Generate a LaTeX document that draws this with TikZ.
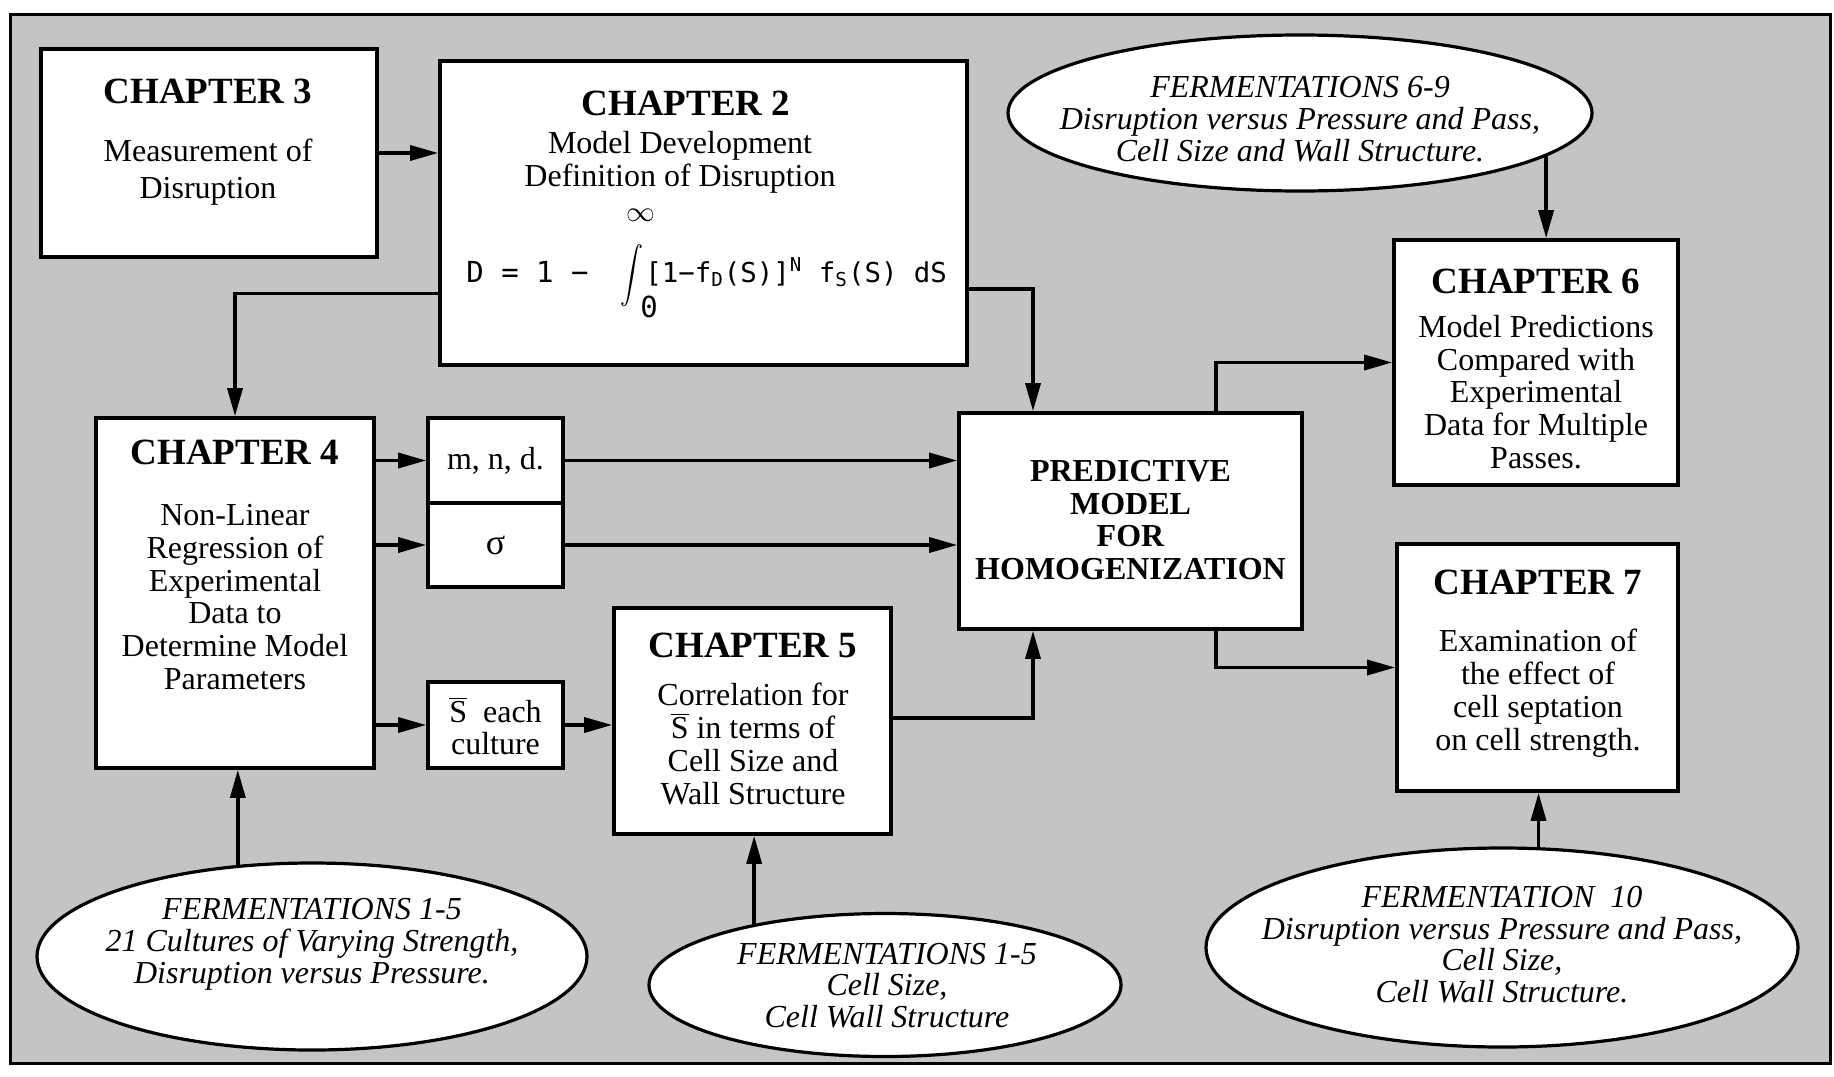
\documentclass[tikz,border=0pt]{standalone}
\usepackage{fontspec}
\setmainfont{Liberation Serif}
\newfontfamily\fm{DejaVu Sans Mono}
\usetikzlibrary{arrows.meta,shapes.geometric,calc}
\definecolor{bg}{gray}{0.77}
\newcommand{\Sbar}{\ensuremath{\overline{\hbox{S}}}}
\begin{document}
\begin{tikzpicture}[x=0.5pt,y=-0.5pt,
 box/.style={draw,line width=1.8pt,fill=white,inner sep=0pt,rectangle},
 ell/.style={draw,ellipse,line width=1.6pt,fill=white,inner sep=0pt},
 arr/.style={line width=1.7pt,-{Triangle[length=14pt,width=7.5pt]}},
 ttl/.style={font=\fontsize{18.5}{20}\selectfont\bfseries,inner sep=0pt},
 bod/.style={font=\fontsize{16}{16.4}\selectfont,align=center,inner sep=0pt},
 itl/.style={font=\fontsize{16}{15.9}\selectfont\itshape,align=center,inner sep=0pt},
 frm/.style={font=\fm\fontsize{14.5}{16}\selectfont,inner sep=0pt}]
\useasboundingbox (0,0) rectangle (1834,1076);
\draw[line width=1.5pt,fill=bg] (10,14) rectangle (1830,1063);

% boxes
\node[box,minimum width=168pt,minimum height=104pt] (ch3) at (209,153) {};
\node[box,minimum width=263.5pt,minimum height=152pt] (ch2) at (703.5,213) {};
\node[box,minimum width=139pt,minimum height=175pt] (ch4) at (235,593) {};
\node[box,minimum width=67.5pt,minimum height=42.5pt] (mnd) at (495.5,460.5) {};
\node[box,minimum width=67.5pt,minimum height=42pt] (sig) at (495.5,545) {};
\node[box,minimum width=67.5pt,minimum height=43pt] (sbar) at (495.5,725) {};
\node[box,minimum width=138.5pt,minimum height=113pt] (ch5) at (752.5,721) {};
\node[box,minimum width=171.5pt,minimum height=108pt] (pred) at (1130.5,521) {};
\node[box,minimum width=142pt,minimum height=122.5pt] (ch6) at (1536,362.5) {};
\node[box,minimum width=140.5pt,minimum height=123.5pt] (ch7) at (1537.5,667.5) {};

% ellipses
\node[ell,minimum width=292pt,minimum height=78pt] (f69) at (1300,113) {};
\node[ell,minimum width=275pt,minimum height=93.5pt] (f15a) at (312,956.5) {};
\node[ell,minimum width=236pt,minimum height=71.5pt] (f15b) at (885,985) {};
\node[ell,minimum width=296pt,minimum height=99.5pt] (f10) at (1502,947.5) {};

% texts
\node[ttl] (t3) at (208,91) {CHAPTER 3};
\node[bod,font=\fontsize{16}{18.5}\selectfont] (b3) at (208,172) {Measurement of\\Disruption};
\node[ttl] (t2) at (686,103) {CHAPTER 2};
\node[bod] (b2) at (680,162.5) {Model Development\\Definition of Disruption};
\node[frm,anchor=base west] (fa) at (466,282) {D = 1 −};
\node[inner sep=0pt] (fint) at (632,276) {\scalebox{1.15}[1.4]{$\displaystyle\int$}};
\node[inner sep=0pt,font=\fontsize{15}{14}\selectfont] (finf) at (641,215) {$\infty$};
\node[frm] (fzero) at (649,307) {0};
\node[frm,font=\fm\fontsize{13.7}{16}\selectfont,anchor=base west] (fb) at (645,282) {[1−f\textsubscript{D}(S)]\textsuperscript{N} f\textsubscript{S}(S) dS};
\node[ttl] (t4) at (235,452.6) {CHAPTER 4};
\node[bod] (b4) at (235,597) {Non-Linear\\Regression of\\Experimental\\Data to\\Determine Model\\Parameters};
\node[bod] (tm) at (mnd) {m, n, d.};
\node[bod,font=\fontsize{18}{18}\selectfont] (ts) at (sig) {σ};
\node[bod] (tsb) at (495.5,726) {\Sbar\ \ each\\culture};
\node[ttl] (t5) at (753,645.6) {CHAPTER 5};
\node[bod] (b5) at (753,744) {Correlation for\\\Sbar\ in terms of\\Cell Size and\\Wall Structure};
\node[bod,font=\fontsize{16}{16.2}\selectfont\bfseries] (tp) at (1130.5,520) {PREDICTIVE\\MODEL\\FOR\\HOMOGENIZATION};
\node[ttl] (t6) at (1536,281) {CHAPTER 6};
\node[bod] (b6) at (1536,392) {Model Predictions\\Compared with\\Experimental\\Data for Multiple\\Passes.};
\node[ttl] (t7) at (1538,582.5) {CHAPTER 7};
\node[bod] (b7) at (1538,693) {Examination of\\the effect of\\cell septation\\on cell strength.};
\node[itl] (e69) at (1300,119) {FERMENTATIONS 6-9\\Disruption versus Pressure and Pass,\\Cell Size and Wall Structure.};
\node[itl] (e15a) at (312,944) {FERMENTATIONS 1-5\\21 Cultures of Varying Strength,\\Disruption versus Pressure.};
\node[itl] (e15b) at (887,985.5) {FERMENTATIONS 1-5\\Cell Size,\\Cell Wall Structure};
\node[itl] (e10) at (1502,944.5) {FERMENTATION\ \ 10\\Disruption versus Pressure and Pass,\\Cell Size,\\Cell Wall Structure.};

% connectors
\draw[arr] (ch3.east) -- (ch3.east -| ch2.west);
\draw[arr] ([yshift=-40.3pt]ch2.west) -| (ch4.north);
\draw[arr] ([yshift=-38pt]ch2.east) -| ([xshift=-48.75pt]pred.north);
\draw[arr] (ch4.east |- mnd.west) -- (mnd.west);
\draw[arr] (ch4.east |- sig.west) -- (sig.west);
\draw[arr] (ch4.east |- sbar.west) -- (sbar.west);
\draw[arr] (mnd.east) -- (mnd.east -| pred.west);
\draw[arr] (sig.east) -- (sig.east -| pred.west);
\draw[arr] (sbar.east) -- (sbar.east -| ch5.west);
\draw[arr] ([yshift=1.5pt]ch5.east) -| ([xshift=-48.75pt]pred.south);
\draw[arr] ([xshift=42.75pt]pred.north) |- (ch6.west);
\draw[arr] ([xshift=42.75pt]pred.south) |- (ch7.west);
\draw[arr] (f69.-10.9) -- (f69.-10.9 |- ch6.north);
\draw[arr] (f15a.129.8) -- (f15a.129.8 |- ch4.south);
\draw[arr] (f15b.155.9) -- (f15b.155.9 |- ch5.south);
\draw[arr] (f10.70) -- (f10.70 |- ch7.south);
\end{tikzpicture}
\end{document}
